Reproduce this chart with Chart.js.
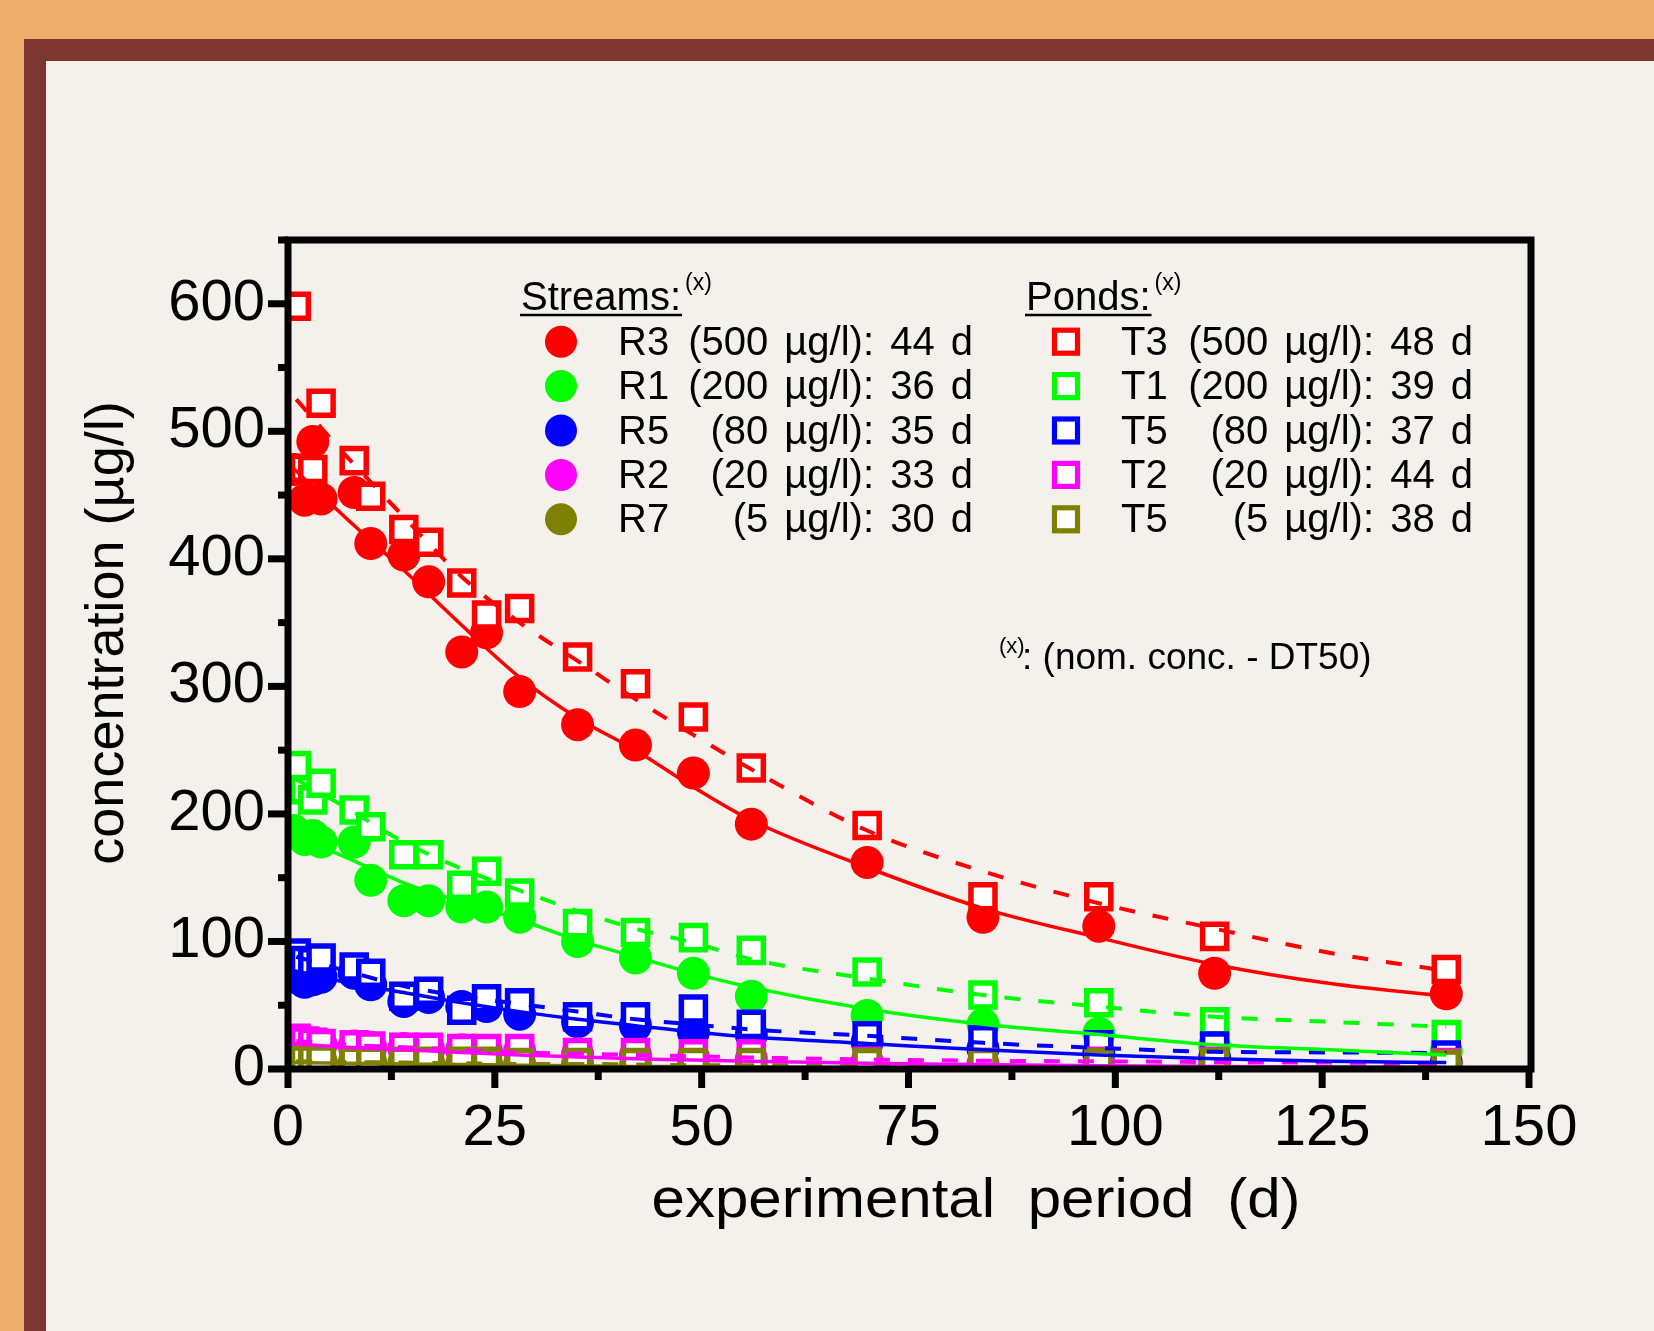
<!DOCTYPE html>
<html>
<head>
<meta charset="utf-8">
<title>DT50 streams and ponds</title>
<script src="https://cdn.jsdelivr.net/npm/chart.js@4.4.0/dist/chart.umd.min.js"></script>
<style>
  html, body { margin: 0; padding: 0; background: #edae6c; }
  canvas { display: block; }
</style>
</head>
<body>
<canvas id="myChart" width="1654" height="1331"></canvas>
<script>
// sampling days (d)
const streamDays = [0.7, 2, 3, 4, 8, 10, 14, 17, 21, 24, 28, 35, 42, 49, 56, 70, 84, 98, 112, 140];
const pondDays   = [1, 2, 3, 4, 8, 10, 14, 17, 21, 24, 28, 35, 42, 49, 56, 70, 84, 98, 112, 140];

// measured concentrations (µg/l), streams
const r3 = [470, 446, 492, 447, 452, 412, 403, 382, 327, 342, 296, 270, 254, 232, 192, 162, 119, 112, 75, 59];
const r1 = [187, 180, 183, 178, 178, 148, 132, 132, 127, 127, 119, 100, 87, 75, 57, 42, 35, 28, 18, 14];
const r5 = [72, 68, 70, 72, 75, 66, 53, 56, 49, 49, 43, 37, 34, 29, 27, 21, 16, 12, 9, 5];
const r2 = [22, 20, 19, 19, 18, 17, 16, 15, 15, 14, 14, 12, 11, 9, 8, 6, 4, 4, 3, 2];
const r7 = [7, 6, 6, 6, 5, 5, 5, 5, 4, 4, 4, 4, 3, 3, 3, 2, 2, 2, 1, 1];

// measured concentrations (µg/l), ponds
const t3 = [598, 471, 470, 522, 477, 449, 423, 413, 381, 356, 361, 323, 302, 276, 236, 191, 135, 135, 104, 78];
const t1 = [238, 219, 211, 224, 203, 190, 168, 168, 144, 155, 138, 114, 107, 103, 93, 76, 58, 52, 37, 27];
const t5 = [91, 85, 84, 87, 80, 75, 57, 61, 46, 55, 52, 41, 41, 47, 35, 26, 23, 19, 18, 11];
const t2 = [24, 22, 21, 20, 19, 18, 17, 17, 16, 16, 16, 13, 13, 12, 12, 6, 5, 6, 6, 5];
const t7 = [8, 7, 7, 7, 6, 6, 6, 6, 6, 6, 5, 5, 5, 5, 5, 5, 5, 5, 5, 4];

// fitted decay curves
const fitDaysR = [0, 7, 14, 21, 28, 35, 42, 49, 56, 70, 84, 98, 112, 126, 140];
const fitDaysT = [1, 7, 14, 21, 28, 35, 42, 49, 56, 70, 84, 98, 112, 126, 140];
const r3Fit = [475, 432, 391, 348, 307, 275, 250, 221, 195, 158, 126, 103, 82, 67, 57];
const r1Fit = [185, 166, 146, 131, 117, 101, 88, 75, 64, 47, 35, 27, 19, 15, 11];
const r5Fit = [78, 68, 60, 52, 45, 39, 34, 29, 25, 20, 15, 11, 8, 6, 5];
const r2Fit = [20, 17, 15, 13, 11, 9.5, 8, 7, 6, 4.5, 3.5, 2.5, 2, 1.5, 1.2];
const r7Fit = [5, 4.5, 4, 3.5, 3, 2.5, 2, 2, 1.5, 1.2, 1, 1, 1, 1, 1];
const t3Fit = [525, 481, 433, 386, 350, 320, 290, 262, 235, 187, 155, 130, 110, 91, 77];
const t1Fit = [227, 205, 178, 157, 140, 124, 110, 99, 86, 71, 58, 49, 41, 37, 33];
const t5Fit = [88, 77, 65, 57, 51, 45, 39, 35, 31, 26, 20.5, 16.5, 13.5, 13, 12.5];
const t2Fit = [22, 19, 17, 15, 13, 12, 11, 10, 9, 7.5, 6.5, 6, 5.5, 5, 4.5];
const t7Fit = [6, 5.5, 5, 4.5, 4, 4, 3.5, 3, 3, 2.5, 2, 2, 2, 1.5, 1.5];

// legend text
const streamNames = ['R3', 'R1', 'R5', 'R2', 'R7'];
const pondNames = ['T3', 'T1', 'T5', 'T2', 'T5'];
const nomConc = ['(500 µg/l)', '(200 µg/l)', '(80 µg/l)', '(20 µg/l)', '(5 µg/l)'];
const streamDT50 = ['44 d', '36 d', '35 d', '33 d', '30 d'];
const pondDT50 = ['48 d', '39 d', '37 d', '44 d', '38 d'];

// axis ticks
const xTicks = [0, 25, 50, 75, 100, 125, 150];
const xMinorTicks = [12.5, 37.5, 62.5, 87.5, 112.5, 137.5];
const yTicks = [0, 100, 200, 300, 400, 500, 600];
const yMinorTicks = [50, 150, 250, 350, 450, 550, 650];

const colors = ['#ff0000', '#00ff00', '#0000ff', '#ff00ff', '#808000'];
const FONT = "'Liberation Sans', Arial, sans-serif";

const streamData = [r3, r1, r5, r2, r7];
const pondData = [t3, t1, t5, t2, t7];
const streamFits = [r3Fit, r1Fit, r5Fit, r2Fit, r7Fit];
const pondFits = [t3Fit, t1Fit, t5Fit, t2Fit, t7Fit];

const pts = (xs, ys) => xs.map((x, i) => ({ x: x, y: ys[i] }));

const datasets = [];
streamFits.forEach((f, i) => {
    datasets.push({
        type: 'line', data: pts(fitDaysR, f), showLine: true,
        borderColor: colors[i], borderWidth: 3.5, pointRadius: 0,
        cubicInterpolationMode: 'monotone', fill: false, order: 0
    });
});
pondFits.forEach((f, i) => {
    datasets.push({
        type: 'line', data: pts(fitDaysT, f), showLine: true,
        borderColor: colors[i], borderWidth: 4, borderDash: [16, 18], pointRadius: 0,
        cubicInterpolationMode: 'monotone', fill: false, order: 0
    });
});
pondData.forEach((d, i) => {
    datasets.push({
        data: pts(pondDays, d), showLine: false,
        pointStyle: 'rect', pointRadius: 17, borderWidth: 5.5,
        borderColor: colors[i], backgroundColor: '#ffffff', order: 10 - i
    });
});
streamData.forEach((d, i) => {
    datasets.push({
        data: pts(streamDays, d), showLine: false,
        pointStyle: 'circle', pointRadius: 16.5, borderWidth: 0,
        borderColor: colors[i], backgroundColor: colors[i], order: 20 - i
    });
});

function line(ctx, x1, y1, x2, y2) {
    ctx.beginPath();
    ctx.moveTo(x1, y1);
    ctx.lineTo(x2, y2);
    ctx.stroke();
}

function header(ctx, text, x, y) {
    ctx.font = '40px ' + FONT;
    ctx.textAlign = 'left';
    ctx.fillText(text, x, y);
    const w = ctx.measureText(text).width;
    ctx.lineWidth = 2.5;
    line(ctx, x - 1, y + 5, x + w + 1, y + 5);
    ctx.font = '23px ' + FONT;
    ctx.fillText('(x)', x + w + 4, y - 20);
}

const decor = {
    id: 'decor',
    beforeDraw(chart) {
        const ctx = chart.ctx;
        ctx.save();
        ctx.fillStyle = '#edae6c';
        ctx.fillRect(0, 0, chart.width, chart.height);
        ctx.fillStyle = '#7b3730';
        ctx.fillRect(24, 39, chart.width - 24, chart.height - 39);
        ctx.fillStyle = '#f4f1ec';
        ctx.fillRect(46, 61, chart.width - 46, chart.height - 61);
        ctx.restore();
    },
    afterDatasetsDraw(chart) {
        const { ctx, chartArea: a, scales: { x, y } } = chart;
        ctx.save();
        ctx.strokeStyle = '#000';
        ctx.lineWidth = 7;
        ctx.strokeRect(a.left, a.top, a.right + 2 - a.left, a.bottom - a.top);
        xTicks.forEach(v => { const p = x.getPixelForValue(v); line(ctx, p, a.bottom, p, a.bottom + 19); });
        xMinorTicks.forEach(v => { const p = x.getPixelForValue(v); line(ctx, p, a.bottom, p, a.bottom + 11); });
        yTicks.forEach(v => { const p = y.getPixelForValue(v); line(ctx, a.left - 20, p, a.left, p); });
        yMinorTicks.forEach(v => { const p = y.getPixelForValue(v); line(ctx, a.left - 10, p, a.left, p); });
        ctx.restore();
    },
    afterDraw(chart) {
        const ctx = chart.ctx;
        ctx.save();
        ctx.fillStyle = '#000';
        ctx.strokeStyle = '#000';
        ctx.textBaseline = 'alphabetic';

        // legend
        header(ctx, 'Streams:', 521, 310);
        header(ctx, 'Ponds:', 1026, 310);
        for (let i = 0; i < streamNames.length; i++) {
            const ry = 341.7 + i * 44.4;
            ctx.fillStyle = colors[i];
            ctx.beginPath();
            ctx.arc(561, ry, 16, 0, Math.PI * 2);
            ctx.fill();
            ctx.fillStyle = '#ffffff';
            ctx.fillRect(1054.5, ry - 11.5, 23, 23);
            ctx.strokeStyle = colors[i];
            ctx.lineWidth = 5.2;
            ctx.strokeRect(1054.5, ry - 11.5, 23, 23);

            ctx.fillStyle = '#000';
            ctx.font = '40px ' + FONT;
            ctx.wordSpacing = '0px';
            ctx.textAlign = 'left';
            ctx.fillText(streamNames[i], 618, ry + 13);
            ctx.fillText(pondNames[i], 1121, ry + 13);
            ctx.textAlign = 'right';
            ctx.wordSpacing = '5px';
            ctx.fillText(nomConc[i] + ': ' + streamDT50[i], 973, ry + 13);
            ctx.fillText(nomConc[i] + ': ' + pondDT50[i], 1473, ry + 13);
        }
        ctx.wordSpacing = '0px';

        // footnote
        ctx.textAlign = 'left';
        ctx.font = '22px ' + FONT;
        ctx.fillText('(x)', 999, 653);
        ctx.font = '37px ' + FONT;
        ctx.fillText(': (nom. conc. - DT50)', 1022, 669);

        // x axis title
        ctx.save();
        ctx.translate(976, 1217);
        ctx.scale(1, 0.93);
        ctx.font = '60px ' + FONT;
        ctx.textAlign = 'center';
        ctx.wordSpacing = '16px';
        ctx.fillText('experimental period (d)', 0, 0);
        ctx.restore();

        // y axis title
        ctx.wordSpacing = '0px';
        ctx.translate(123, 633);
        ctx.rotate(-Math.PI / 2);
        ctx.font = '54px ' + FONT;
        ctx.textAlign = 'center';
        ctx.fillText('concentration (µg/l)', 0, 0);
        ctx.restore();
    }
};

const ctxMain = document.getElementById('myChart').getContext('2d');
new Chart(ctxMain, {
    type: 'scatter',
    data: { datasets: datasets },
    options: {
        responsive: false,
        devicePixelRatio: 1,
        animation: false,
        events: [],
        layout: { padding: { left: 138, top: 240, right: 125, bottom: 132 } },
        plugins: { legend: { display: false }, tooltip: { enabled: false } },
        scales: {
            x: {
                type: 'linear', min: 0, max: 150,
                grid: { display: false, drawTicks: false },
                border: { display: false },
                afterBuildTicks: s => { s.ticks = xTicks.map(v => ({ value: v })); },
                afterFit: s => { s.height = 130; },
                ticks: { color: '#000', padding: 25, font: { family: FONT, size: 58 } }
            },
            y: {
                type: 'linear', min: 0, max: 650,
                grid: { display: false, drawTicks: false },
                border: { display: false },
                afterBuildTicks: s => { s.ticks = yTicks.map(v => ({ value: v })); },
                afterFit: s => { s.width = 150; },
                ticks: { color: '#000', padding: 23, font: { family: FONT, size: 58 } }
            }
        }
    },
    plugins: [decor]
});
</script>
</body>
</html>
